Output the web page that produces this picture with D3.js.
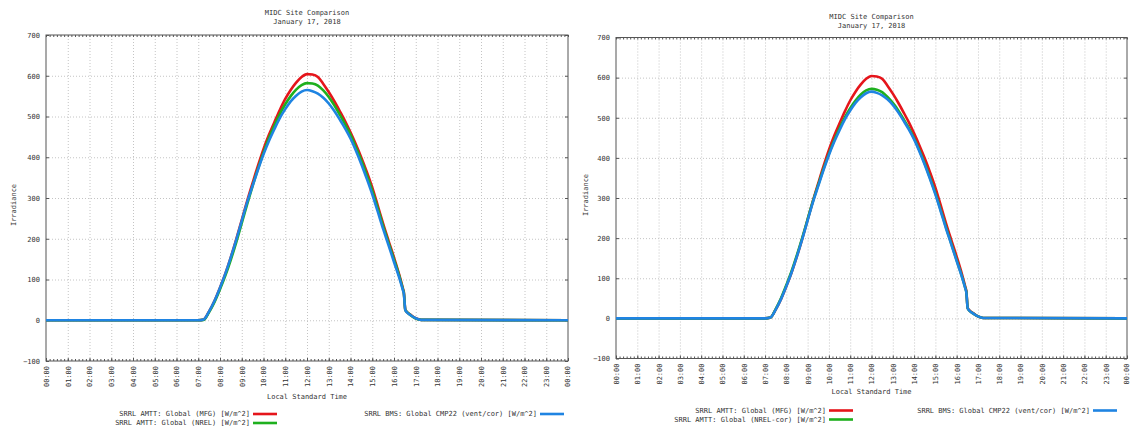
<!DOCTYPE html>
<html>
<head>
<meta charset="utf-8">
<script src="https://cdn.jsdelivr.net/npm/d3@7"></script>
<style>
  body { margin: 0; background: #fff; }
  svg { display: block; }
  text { font-family: "DejaVu Sans Mono", "Liberation Mono", monospace; font-size: 7px; fill: #333; }
  .grid line { stroke: #c4c4c4; stroke-dasharray: 1,2; }
  .grid path { display: none; }
  .axis path { display: none; }
  .axis line { stroke: #555; }
</style>
</head>
<body>
<svg width="1130" height="432"></svg>
<script>
// time of day (hours) for every reading
const hours = [0, 7.0, 7.25, 7.5, 7.75, 8, 8.25, 8.5, 8.75, 9, 9.25, 9.5, 9.75, 10, 10.25, 10.5, 10.75, 11,
  11.25, 11.5, 11.75, 12, 12.25, 12.5, 12.75, 13, 13.25, 13.5, 13.75, 14, 14.25, 14.5, 14.75, 15, 15.25,
  15.5, 15.75, 16, 16.25, 16.42, 16.45, 16.52, 16.6, 16.75, 17, 17.25, 24];

// W/m^2
const bmsCmp22 = [0, 0, 2, 22, 48, 80, 115, 155, 198, 244, 290, 330, 370, 407, 440, 469, 496, 518,
  537, 551, 561, 565, 562, 556, 546, 532, 514, 493, 471, 446, 416, 383, 347, 309, 267,
  224, 184, 143, 103, 72, 66, 25, 19, 13, 5, 1, 0];
const amttMfg = [0, 0, 2, 22, 48, 80, 115, 155, 199, 246, 293, 337, 380, 420, 455, 486, 516, 543,
  565, 583, 597, 604, 603, 597, 580, 560, 538, 514, 489, 461, 431, 399, 364, 326, 282,
  237, 195, 154, 110, 76, 70, 26, 20, 14, 5, 1, 0];
const amttNrel = [0, 0, 1, 20, 45, 76, 110, 149, 192, 238, 285, 330, 372, 411, 447, 478, 506, 530,
  550, 566, 577, 582, 581, 576, 564, 548, 528, 505, 481, 455, 424, 392, 356, 318, 275,
  231, 190, 149, 107, 74, 68, 25, 20, 13, 4, 1, 0];
const amttNrelCor = [0, 0, 2, 23, 50, 83, 118, 158, 201, 247, 292, 333, 373, 410, 444, 474, 501, 524,
  543, 558, 568, 572, 570, 564, 552, 537, 519, 497, 475, 449, 419, 386, 350, 312, 270,
  227, 186, 145, 104, 73, 67, 25, 19, 13, 5, 1, 0];

const yTicks = [-100, 0, 100, 200, 300, 400, 500, 600, 700];
const xTickLabels = ["00:00", "01:00", "02:00", "03:00", "04:00", "05:00", "06:00", "07:00", "08:00",
  "09:00", "10:00", "11:00", "12:00", "13:00", "14:00", "15:00", "16:00", "17:00", "18:00", "19:00",
  "20:00", "21:00", "22:00", "23:00", "00:00"];

const titleLines = ["MIDC Site Comparison", "January 17, 2018"];
const yLabel = "Irradiance";
const xLabel = "Local Standard Time";

const nameMfg = "SRRL AMTT: Global (MFG) [W/m^2]";
const nameNrel = "SRRL AMTT: Global (NREL) [W/m^2]";
const nameNrelCor = "SRRL AMTT: Global (NREL-cor) [W/m^2]";
const nameBms = "SRRL BMS: Global CMP22 (vent/cor) [W/m^2]";

const red = "#e5151b", green = "#1eb01e", blue = "#1f84e2";

const panels = [
  { left: 46, right: 568, top: 35, bottom: 361, titleY: 14.5, yLabX: 14, yLabY: 205, xLabY: 398.5,
    legY: 414, legA: 250, legB: 537,
    series: [
      { name: nameMfg, values: amttMfg, color: red },
      { name: nameNrel, values: amttNrel, color: green },
      { name: nameBms, values: bmsCmp22, color: blue }
    ] },
  { left: 616, right: 1127, top: 37.5, bottom: 358.5, titleY: 18.5, yLabX: 586, yLabY: 195, xLabY: 393.5,
    legY: 410.5, legA: 826, legB: 1090,
    series: [
      { name: nameMfg, values: amttMfg, color: red },
      { name: nameNrelCor, values: amttNrelCor, color: green },
      { name: nameBms, values: bmsCmp22, color: blue }
    ] }
];

const svg = d3.select("svg");

panels.forEach(function (p) {
  const g = svg.append("g");
  const width = p.right - p.left;
  const height = p.bottom - p.top;

  const x = d3.scaleLinear().domain([0, 24]).range([p.left, p.right]);
  const y = d3.scaleLinear().domain([-100, 700]).range([p.bottom, p.top]);

  // grid
  g.append("g")
    .attr("class", "grid")
    .attr("transform", `translate(0, ${p.bottom})`)
    .call(d3.axisBottom(x).tickValues(d3.range(1, 24)).tickSize(-height).tickFormat(""));
  g.append("g")
    .attr("class", "grid")
    .attr("transform", `translate(${p.left}, 0)`)
    .call(d3.axisLeft(y).tickValues(yTicks.slice(1, -1)).tickSize(-width).tickFormat(""));

  // minor ticks every 10 min, top and bottom
  const minor = d3.range(0, 24 * 6 + 1).map((d) => d / 6);
  g.append("g").attr("class", "axis")
    .attr("transform", `translate(0, ${p.bottom})`)
    .call(d3.axisBottom(x).tickValues(minor).tickSize(-2).tickFormat(""));
  g.append("g").attr("class", "axis")
    .attr("transform", `translate(0, ${p.top})`)
    .call(d3.axisTop(x).tickValues(minor).tickSize(-2).tickFormat(""));
  g.append("g").attr("class", "axis")
    .attr("transform", `translate(${p.right}, 0)`)
    .call(d3.axisRight(y).tickValues(yTicks).tickSize(-3).tickFormat(""));

  // y axis with labels
  g.append("g").attr("class", "axis")
    .attr("transform", `translate(${p.left}, 0)`)
    .call(d3.axisLeft(y).tickValues(yTicks).tickSize(-3).tickPadding(6))
    .selectAll("text")
    .attr("x", -6);

  // x axis with rotated labels
  g.append("g").attr("class", "axis")
    .attr("transform", `translate(0, ${p.bottom})`)
    .call(d3.axisBottom(x).tickValues(d3.range(0, 25)).tickSize(-3).tickFormat((d) => xTickLabels[d]))
    .selectAll("text")
    .attr("transform", "rotate(-90)")
    .attr("text-anchor", "end")
    .attr("x", -5)
    .attr("y", (d) => (d === 24 ? -0.5 : 0))
    .attr("dy", "0.35em");

  // frame
  g.append("rect")
    .attr("x", p.left).attr("y", p.top)
    .attr("width", width).attr("height", height)
    .attr("fill", "none").attr("stroke", "#555").attr("stroke-width", 1);

  // title
  g.append("g").selectAll("text")
    .data(titleLines)
    .enter()
    .append("text")
    .attr("x", (p.left + p.right) / 2)
    .attr("y", (d, i) => p.titleY + i * 9)
    .attr("text-anchor", "middle")
    .text((d) => d);

  g.append("text")
    .attr("transform", `translate(${p.yLabX}, ${p.yLabY}) rotate(-90)`)
    .attr("text-anchor", "middle")
    .attr("dy", "0.35em")
    .text(yLabel);

  g.append("text")
    .attr("x", (p.left + p.right) / 2)
    .attr("y", p.xLabY)
    .attr("text-anchor", "middle")
    .text(xLabel);

  // lines
  const line = d3.line()
    .x((d, i) => x(hours[i]))
    .y((d) => y(d))
    .curve(d3.curveMonotoneX);

  g.append("g")
    .selectAll("path")
    .data(p.series)
    .enter()
    .append("path")
    .attr("d", (d) => line(d.values))
    .attr("fill", "none")
    .attr("stroke", (d) => d.color)
    .attr("stroke-width", 2.6)
    .attr("stroke-linejoin", "round");

  // legend
  const legPos = [
    { x: p.legA, y: p.legY },
    { x: p.legA, y: p.legY + 9 },
    { x: p.legB, y: p.legY }
  ];
  const leg = g.append("g")
    .selectAll("g")
    .data(p.series)
    .enter()
    .append("g")
    .attr("transform", (d, i) => `translate(${legPos[i].x}, ${legPos[i].y})`);
  leg.append("text")
    .attr("text-anchor", "end")
    .attr("dy", "0.35em")
    .text((d) => d.name);
  leg.append("line")
    .attr("x1", 3).attr("x2", 27)
    .attr("stroke", (d) => d.color)
    .attr("stroke-width", 2.6);
});
</script>
</body>
</html>
